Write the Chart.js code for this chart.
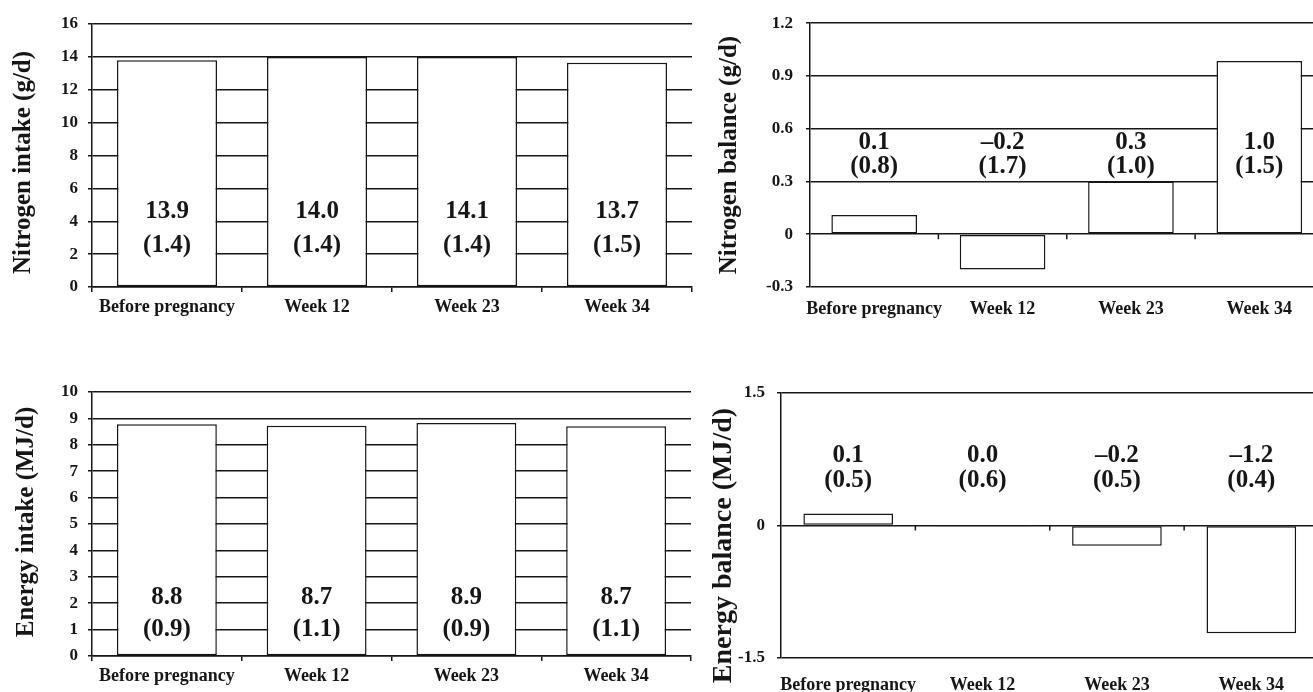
<!DOCTYPE html>
<html><head><meta charset="utf-8">
<script src="https://cdn.jsdelivr.net/npm/chart.js@4.4.1/dist/chart.umd.min.js"></script>
<style>
html,body{margin:0;padding:0;background:#fff;overflow:hidden;width:1313px;height:692px;position:relative;}
canvas{position:absolute;}
</style></head><body>
<canvas id="c1" width="700" height="330" style="left:0;top:0"></canvas>
<canvas id="c2" width="640" height="330" style="left:700px;top:0"></canvas>
<canvas id="c3" width="700" height="352" style="left:0;top:340px"></canvas>
<canvas id="c4" width="640" height="352" style="left:700px;top:340px"></canvas>
<script>
const categories = ['Before pregnancy', 'Week 12', 'Week 23', 'Week 34'];

const nitrogenIntake = [13.8, 14.0, 14.0, 13.65];
const nitrogenIntakeMean = ['13.9', '14.0', '14.1', '13.7'];
const nitrogenIntakeSD = ['(1.4)', '(1.4)', '(1.4)', '(1.5)'];
const nitrogenIntakeTicks = [0, 2, 4, 6, 8, 10, 12, 14, 16];
const nitrogenIntakeTickLabels = ['0', '2', '4', '6', '8', '10', '12', '14', '16'];

const nitrogenBalance = [0.11, -0.2, 0.3, 0.985];
const nitrogenBalanceMean = ['0.1', '\u20130.2', '0.3', '1.0'];
const nitrogenBalanceSD = ['(0.8)', '(1.7)', '(1.0)', '(1.5)'];
const nitrogenBalanceTicks = [-0.3, 0, 0.3, 0.6, 0.9, 1.2];
const nitrogenBalanceTickLabels = ['-0.3', '0', '0.3', '0.6', '0.9', '1.2'];

const energyIntake = [8.78, 8.72, 8.83, 8.70];
const energyIntakeMean = ['8.8', '8.7', '8.9', '8.7'];
const energyIntakeSD = ['(0.9)', '(1.1)', '(0.9)', '(1.1)'];
const energyIntakeTicks = [0, 1, 2, 3, 4, 5, 6, 7, 8, 9, 10];
const energyIntakeTickLabels = ['0', '1', '2', '3', '4', '5', '6', '7', '8', '9', '10'];

const energyBalance = [0.135, -0.01, -0.23, -1.22];
const energyBalanceMean = ['0.1', '0.0', '\u20130.2', '\u20131.2'];
const energyBalanceSD = ['(0.5)', '(0.6)', '(0.5)', '(0.4)'];
const energyBalanceTicks = [-1.5, 0, 1.5];
const energyBalanceTickLabels = ['-1.5', '0', '1.5'];

const INK = '#161616';
const FAMILY = "'Liberation Serif', 'Times New Roman', serif";
Chart.defaults.font.family = FAMILY;
Chart.defaults.font.weight = 'bold';
Chart.defaults.color = INK;

function makePanel(id, o) {
  const labelPlugin = {
    id: 'vals_' + id,
    afterDatasetsDraw(chart) {
      const {ctx, scales: {x, y}} = chart;
      ctx.save();
      ctx.font = 'bold 25px ' + FAMILY;
      ctx.fillStyle = INK;
      ctx.textAlign = 'center';
      ctx.textBaseline = 'middle';
      o.means.forEach((t, i) => {
        const px = x.getPixelForValue(i);
        ctx.fillText(t, px, y.getPixelForValue(o.labelY1));
        ctx.fillText(o.sds[i], px, y.getPixelForValue(o.labelY2));
      });
      if (o.zeroTicks) {
        const y0 = y.getPixelForValue(0);
        ctx.strokeStyle = INK;
        ctx.lineWidth = 1.5;
        for (let i = 1; i < o.values.length; i++) {
          const xb = (x.getPixelForValue(i - 1) + x.getPixelForValue(i)) / 2;
          ctx.beginPath();
          ctx.moveTo(xb, y0);
          ctx.lineTo(xb, y0 + 5);
          ctx.stroke();
        }
      }
      ctx.restore();
    },
    afterDraw(chart) {
      const {ctx, chartArea} = chart;
      ctx.save();
      ctx.translate(o.titleX, (chartArea.top + chartArea.bottom) / 2 + o.titleDy);
      ctx.rotate(-Math.PI / 2);
      ctx.font = 'bold ' + o.titleSize + 'px ' + FAMILY;
      ctx.fillStyle = INK;
      ctx.textAlign = 'center';
      ctx.textBaseline = 'middle';
      ctx.fillText(o.title, 0, 0);
      ctx.restore();
    }
  };
  new Chart(document.getElementById(id), {
    type: 'bar',
    data: {
      labels: categories,
      datasets: [{
        data: o.values,
        backgroundColor: '#ffffff',
        borderColor: INK,
        borderWidth: 1.5,
        borderSkipped: false,
        categoryPercentage: 1,
        barPercentage: 0.667
      }]
    },
    options: {
      responsive: false,
      animation: false,
      devicePixelRatio: 1,
      layout: {padding: {top: o.padTop, right: o.padRight, left: 0, bottom: 0}},
      plugins: {legend: {display: false}, tooltip: {enabled: false}},
      scales: {
        x: {
          grid: {display: o.xTicks, drawOnChartArea: false, drawTicks: o.xTicks, tickLength: 5, color: INK, lineWidth: 1.5, offset: true},
          border: {display: o.xTicks, color: INK, width: 1.5},
          ticks: {color: INK, font: {size: 18, weight: 'bold'}, padding: o.xPad, maxRotation: 0, autoSkip: false},
          afterFit: s => { s.height = o.xH; }
        },
        y: {
          min: o.min, max: o.max,
          afterBuildTicks: s => { s.ticks = o.ticks.map(v => ({value: v})); },
          ticks: {color: INK, font: {size: 17, weight: 'bold'}, padding: o.yPad, callback: (v, i) => o.tickLabels[i]},
          grid: {color: INK, lineWidth: 1.5, tickLength: 4, drawTicks: true},
          border: {display: true, color: INK, width: 1.5},
          title: {display: false},
          afterFit: s => { s.width = o.yW; }
        }
      }
    },
    plugins: [labelPlugin]
  });
}

makePanel('c1', {
  values: nitrogenIntake, means: nitrogenIntakeMean, sds: nitrogenIntakeSD,
  ticks: nitrogenIntakeTicks, tickLabels: nitrogenIntakeTickLabels, min: 0, max: 16,
  title: 'Nitrogen intake (g/d)', titleSize: 25, titleX: 24, titleDy: 7,
  padTop: 24, padRight: 8, yW: 92, xH: 43, xPad: 5, yPad: 10, xTicks: true, zeroTicks: false,
  labelY1: 4.56, labelY2: 2.5
});
makePanel('c2', {
  values: nitrogenBalance, means: nitrogenBalanceMean, sds: nitrogenBalanceSD,
  ticks: nitrogenBalanceTicks, tickLabels: nitrogenBalanceTickLabels, min: -0.3, max: 1.2,
  title: 'Nitrogen balance (g/d)', titleSize: 25, titleX: 30, titleDy: 0,
  padTop: 22, padRight: 16.5, yW: 110, xH: 43, xPad: 12, yPad: 13, xTicks: false, zeroTicks: true,
  labelY1: 0.52, labelY2: 0.385
});
makePanel('c3', {
  values: energyIntake, means: energyIntakeMean, sds: energyIntakeSD,
  ticks: energyIntakeTicks, tickLabels: energyIntakeTickLabels, min: 0, max: 10,
  title: 'Energy intake (MJ/d)', titleSize: 25, titleX: 27, titleDy: -2,
  padTop: 52, padRight: 9, yW: 92, xH: 36, xPad: 5, yPad: 10, xTicks: true, zeroTicks: false,
  labelY1: 2.2, labelY2: 1.02
});
makePanel('c4', {
  values: energyBalance, means: energyBalanceMean, sds: energyBalanceSD,
  ticks: energyBalanceTicks, tickLabels: energyBalanceTickLabels, min: -1.5, max: 1.5,
  title: 'Energy balance (MJ/d)', titleSize: 28, titleX: 24, titleDy: 20,
  padTop: 53, padRight: 21.5, yW: 81, xH: 34, xPad: 17, yPad: 12, xTicks: false, zeroTicks: true,
  labelY1: 0.79, labelY2: 0.51
});
</script>
</body></html>
